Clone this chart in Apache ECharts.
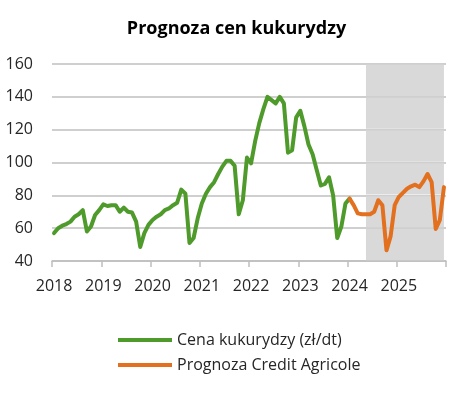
<!DOCTYPE html>
<html>
<head>
<meta charset="utf-8">
<script src="https://cdn.jsdelivr.net/npm/echarts@6/dist/echarts.min.js"></script>
<style>
html,body{margin:0;padding:0;background:#fff;}
#chart{width:473px;height:393px;}
</style>
</head>
<body>
<div id="chart"></div>
<script>
// Tick labels (years) – one category per month, Jan 2018 … Dec 2025
var years = ['2018','2019','2020','2021','2022','2023','2024','2025'];
var yTicks = [40, 60, 80, 100, 120, 140, 160];

// Cena kukurydzy (zł/dt), monthly Jan 2018 … Jan 2024
var cena = [
  57, 60, 61.5, 62.5, 64, 67, 68.5, 71, 58, 61, 68, 71,
  74.5, 73.5, 74, 74, 70, 72.5, 70, 69.5, 64, 48.5, 57, 62,
  65, 67, 68.5, 71, 72, 74, 75.5, 83.5, 81, 51, 54, 66,
  75, 81, 85, 88, 93, 97.5, 101, 101, 98, 68.5, 77, 103,
  99.5, 113, 124, 132.5, 140, 138, 136, 140, 136, 106, 107.5, 127.5,
  131.5, 122, 111, 105, 95.5, 86, 87, 91, 80, 54, 61, 75,
  78
];
// Prognoza Credit Agricole, monthly Jan 2024 … Dec 2025
var prognoza = [
  78, 74, 69, 68.5, 68.5, 68.5, 70, 77, 74, 46.5, 55, 74,
  79, 81.5, 84, 85.5, 86.5, 85, 88.5, 93, 88, 59.5, 65, 85
];
// Forecast shading range (category labels)
var shadeFrom = '2024-05';
var shadeTo = '2025-12';

var months = [];
years.forEach(function (y) {
  for (var m = 1; m <= 12; m++) months.push(y + '-' + (m < 10 ? '0' + m : m));
});
var cenaData = months.map(function (_, i) { return i < cena.length ? cena[i] : null; });
var progStart = months.indexOf('2024-01');
var progData = months.map(function (_, i) {
  var k = i - progStart; return (k >= 0 && k < prognoza.length) ? prognoza[k] : null;
});
// shading split into bands between gridlines so the gridlines stay visible
var halfGap = 0.5;
var shadeBands = [];
for (var k = 0; k < yTicks.length - 1; k++) {
  shadeBands.push([
    { xAxis: shadeFrom, yAxis: yTicks[k + 1] - halfGap },
    { xAxis: shadeTo, yAxis: yTicks[k] + halfGap }
  ]);
}

var FONT = 'Open Sans';
var GRID = '#bfbfbf';
var chart = echarts.init(document.getElementById('chart'));
chart.setOption({
  animation: false,
  backgroundColor: '#ffffff',
  title: {
    text: 'Prognoza cen kukurydzy',
    left: 'center',
    top: 15,
    textStyle: { fontFamily: FONT, fontWeight: 'bold', fontSize: 18, color: '#000000' }
  },
  grid: { left: 52, right: 27, top: 64, bottom: 132, containLabel: false },
  legend: {
    orient: 'vertical',
    left: 113,
    top: 327,
    itemWidth: 54,
    itemHeight: 4,
    itemGap: 9,
    icon: 'rect',
    textStyle: { fontFamily: FONT, fontSize: 16, color: '#262626' },
    data: ['Cena kukurydzy (zł/dt)', 'Prognoza Credit Agricole']
  },
  xAxis: {
    type: 'category',
    data: months,
    boundaryGap: true,
    axisLine: { show: true, lineStyle: { color: GRID, width: 1.5 } },
    axisTick: {
      show: true, length: 6, lineStyle: { color: GRID, width: 1.5 },
      interval: function (i) { return i % 12 === 0; }
    },
    axisLabel: {
      interval: function (i) { return i % 12 === 0; },
      formatter: function (v) { return v.slice(0, 4); },
      margin: 17,
      fontFamily: FONT, fontSize: 16, color: '#262626'
    },
    splitLine: { show: false }
  },
  yAxis: {
    type: 'value',
    min: yTicks[0],
    max: yTicks[yTicks.length - 1],
    interval: 20,
    axisLine: { show: false },
    axisTick: { show: false },
    axisLabel: { margin: 19, fontFamily: FONT, fontSize: 16, color: '#262626' },
    splitLine: { show: true, lineStyle: { color: GRID, width: 1.5 } }
  },
  series: [
    {
      name: 'shade',
      type: 'line',
      silent: true,
      data: progData,
      showSymbol: false,
      lineStyle: { opacity: 0 },
      markArea: {
        silent: true,
        itemStyle: { color: '#d9d9d9' },
        emphasis: { disabled: true },
        data: shadeBands
      }
    },
    {
      name: 'Cena kukurydzy (zł/dt)',
      type: 'line',
      z: 8,
      data: cenaData,
      showSymbol: false,
      symbol: 'none',
      itemStyle: { color: '#4e9a2b' },
      lineStyle: { color: '#4e9a2b', width: 4, cap: 'round', join: 'round' }
    },
    {
      name: 'Prognoza Credit Agricole',
      type: 'line',
      z: 9,
      data: progData,
      showSymbol: false,
      symbol: 'none',
      itemStyle: { color: '#e2701f' },
      lineStyle: { color: '#e2701f', width: 4, cap: 'round', join: 'round' }
    }
  ]
});
</script>
</body>
</html>
